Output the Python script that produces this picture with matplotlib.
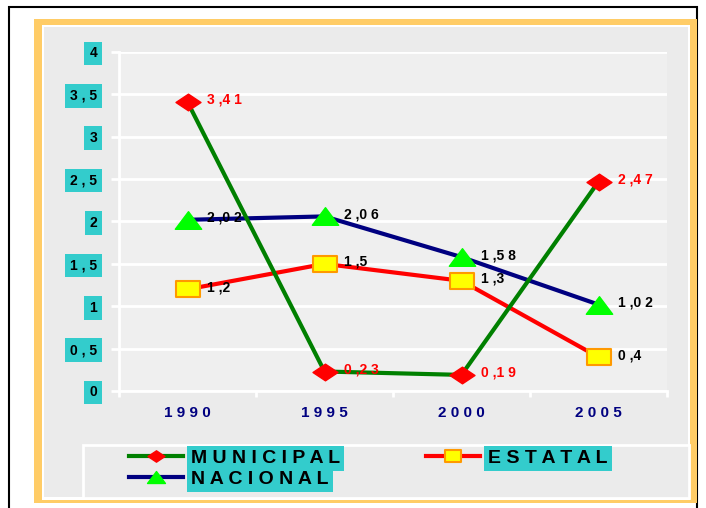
import matplotlib.pyplot as plt
from matplotlib.patches import Rectangle
from matplotlib.path import Path

plt.rcParams["font.family"] = ["Liberation Sans", "DejaVu Sans"]
plt.rcParams["font.weight"] = "bold"

# data
years = ["1990", "1995", "2000", "2005"]
municipal = [3.41, 0.23, 0.19, 2.47]
estatal = [1.2, 1.5, 1.3, 0.4]
nacional = [2.02, 2.06, 1.58, 1.02]
yticks = [0, 0.5, 1, 1.5, 2, 2.5, 3, 3.5, 4]
ytick_labels = ["0", "0 , 5", "1", "1 , 5", "2", "2 , 5", "3", "3 , 5", "4"]
legend_names = ["M U N I C I P A L", "N A C I O N A L", "E S T A T A L"]

W, H = 706, 508
fig = plt.figure(figsize=(W / 100, H / 100), dpi=100)


def box(x0, y0, x1, y1, z, **kw):
    # rectangle in figure pixels (top-left origin)
    fig.patches.append(
        Rectangle((x0 / W, 1 - y1 / H), (x1 - x0) / W, (y1 - y0) / H,
                  transform=fig.transFigure, zorder=z, **kw)
    )


box(9, 7, 697, 512, -10, facecolor="white", edgecolor="black", lw=1.5)
box(34, 19, 697, 503, -9, facecolor="#ffcc66", edgecolor="none")
box(42, 25, 690, 500, -8, facecolor="white", edgecolor="none")
box(44, 27, 688, 497, -7, facecolor="#ebebeb", edgecolor="none")
box(83, 445, 689, 498, -6, facecolor="#ebebeb", edgecolor="white", lw=2)

ax = fig.add_axes([119 / W, 1 - 391 / H, (667 - 119) / W, (391 - 52) / H])
ax.set_facecolor("#efefef")

diamond = Path([(-1.5, 0), (0, 1), (1.5, 0), (0, -1), (-1.5, 0)], closed=True)
square = Path([(-1.4, -1), (1.4, -1), (1.4, 1), (-1.4, 1), (-1.4, -1)], closed=True)
triangle = Path([(-1.5, -1), (1.5, -1), (0, 1), (-1.5, -1)], closed=True)

x = range(len(years))
l_est, = ax.plot(x, estatal, color="#ff0000", lw=3, marker=square, ms=17,
                 mfc="#ffff00", mec="#ff9900", mew=1.5, zorder=3)
l_nac, = ax.plot(x, nacional, color="#000080", lw=3, marker=triangle, ms=19,
                 mfc="#00ff00", mec="#00ff00", zorder=3)
l_mun, = ax.plot(x, municipal, color="#008000", lw=3, marker=diamond, ms=18,
                 mfc="#ff0000", mec="#ff0000", zorder=4)


def lab(v):
    return " ".join(str(v).replace(".", ",")).replace(", ", ",")


for vals, col in [(municipal, "#ff0000"), (estatal, "black"), (nacional, "black")]:
    for i, v in enumerate(vals):
        ax.annotate(lab(v), (i, v), xytext=(14, 1.5), textcoords="offset points",
                    ha="left", va="center", fontsize=10, color=col,
                    fontweight="bold", zorder=6)

ax.set_xlim(-0.5, 3.5)
ax.set_ylim(0, 4)
ax.set_yticks(yticks)
ax.set_yticklabels(ytick_labels, fontsize=10, fontweight="bold")
for t in ax.get_yticklabels():
    t.set_bbox(dict(facecolor="#33cccc", edgecolor="none", pad=3.5))
ax.tick_params(axis="y", length=5.8, width=2, color="white", pad=10)

ax.set_xticks(list(x))
ax.set_xticklabels([" ".join(y) for y in years], fontsize=11,
                   fontweight="bold", color="#000080")
ax.set_xticks([-0.5, 0.5, 1.5, 2.5, 3.5], minor=True)
ax.tick_params(axis="x", which="major", length=0, pad=11)
ax.tick_params(axis="x", which="minor", length=4, width=2, color="white")

ax.grid(axis="y", color="white", lw=2)
ax.set_axisbelow(True)
for s in ["top", "right"]:
    ax.spines[s].set_visible(False)
for s in ["left", "bottom"]:
    ax.spines[s].set_color("white")
    ax.spines[s].set_linewidth(2)

leg = fig.legend([l_mun, l_nac, l_est], legend_names, ncol=2,
                 loc="upper left", bbox_to_anchor=(129 / W, 1 - 449 / H),
                 frameon=False, borderpad=0, borderaxespad=0, markerscale=0.68,
                 handlelength=2.8, handletextpad=0.4, columnspacing=4.4,
                 labelspacing=0.2, prop={"size": 14, "weight": "bold"})
for t in leg.get_texts():
    t.set_bbox(dict(facecolor="#33cccc", edgecolor="none", pad=3))

fig.savefig("out.png", dpi=100)
